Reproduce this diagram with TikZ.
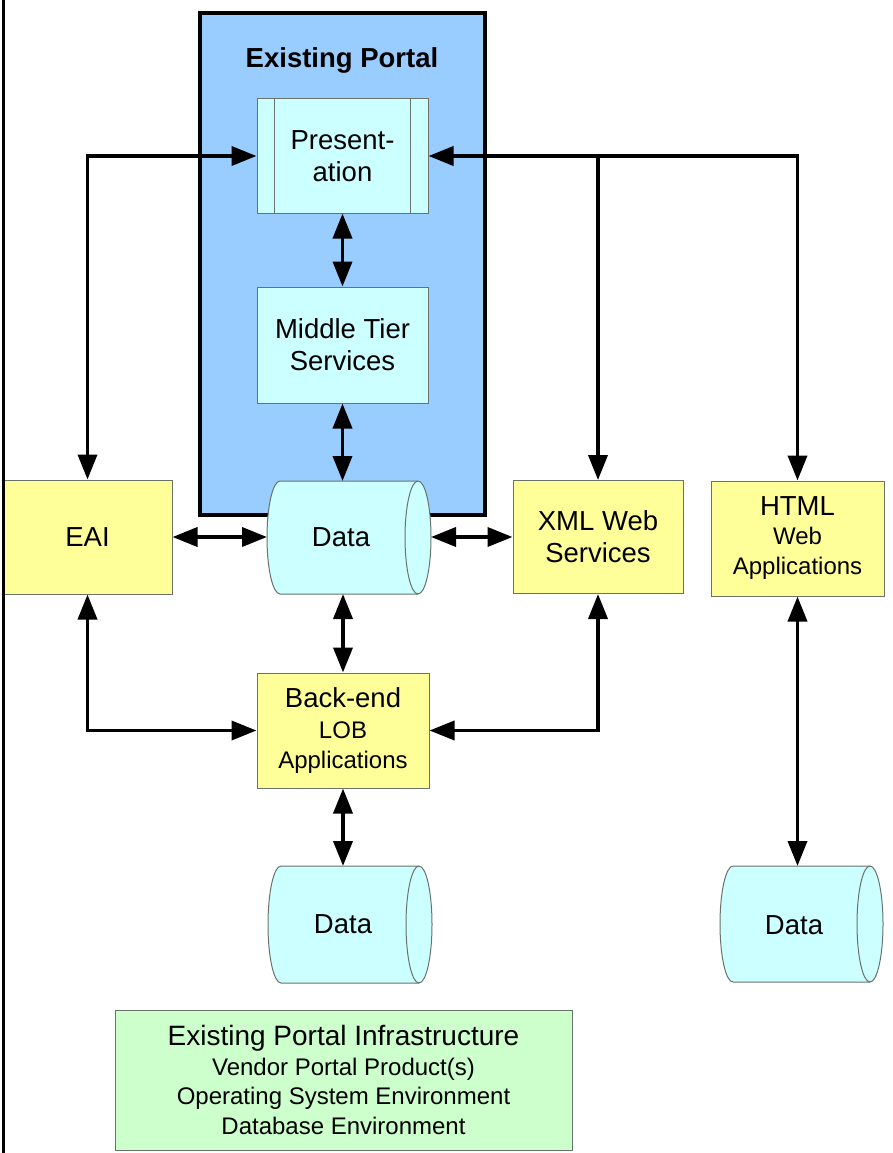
\documentclass[tikz,border=0pt]{standalone}
\usepackage{fontspec}
\setmainfont{Liberation Sans}
\usetikzlibrary{arrows.meta}
\definecolor{portalblue}{RGB}{153,204,255}
\definecolor{cyanfill}{RGB}{204,255,255}
\definecolor{yellowfill}{RGB}{255,255,153}
\definecolor{greenfill}{RGB}{204,255,204}
\definecolor{edgegray}{RGB}{105,115,105}
\newcommand\bigf{\fontsize{27.5}{32}\selectfont}
\newcommand\smf{\fontsize{24}{28}\selectfont}
% cylinder: #1 left corner x, #2 right ellipse centre x, #3 top y, #4 bottom y
\newcommand\cylshape[4]{%
  \pgfmathsetmacro\cyMid{(#3+#4)/2}%
  \pgfmathsetmacro\cyK{(#4-#3)/2*0.5523}%
  \filldraw[fill=cyanfill,draw=edgegray,line width=1pt]
    (#1,#3) -- (#2,#3)
    .. controls (#2+7.2,#3) and (#2+13,\cyMid-\cyK) .. (#2+13,\cyMid)
    .. controls (#2+13,\cyMid+\cyK) and (#2+7.2,#4) .. (#2,#4)
    -- (#1,#4)
    .. controls (#1-7.2,#4) and (#1-13,\cyMid+\cyK) .. (#1-13,\cyMid)
    .. controls (#1-13,\cyMid-\cyK) and (#1-7.2,#3) .. (#1,#3) -- cycle;
  \draw[edgegray,line width=1pt]
    (#2,#3) .. controls (#2-7.2,#3) and (#2-13,\cyMid-\cyK) .. (#2-13,\cyMid)
    .. controls (#2-13,\cyMid+\cyK) and (#2-7.2,#4) .. (#2,#4);
}
\begin{document}
\begin{tikzpicture}[x=1pt,y=-1pt,
  >={Triangle[length=25pt,width=19pt]},
  conn/.style={line width=3.7pt,<->},
  conn1/.style={line width=3.7pt,->},
  box/.style={draw=edgegray,line width=1pt,inner sep=0pt,align=center,font=\bigf},
  cyanbox/.style={box,fill=cyanfill},
  yellowbox/.style={box,fill=yellowfill},
  ghost/.style={draw=none,inner sep=0pt,outer sep=0pt},
  datatext/.style={font=\bigf,inner sep=0pt}]
\useasboundingbox (0,0) rectangle (893,1153);
\fill[white] (0,0) rectangle (893,1153);

% existing portal
\node[draw=black,line width=3.5pt,fill=portalblue,minimum width=285pt,minimum height=502pt,inner sep=0pt] (portal) at (342.5,264) {};
\node[font=\bfseries\fontsize{27.5}{32}\selectfont] (title) at (342,60) {Existing Portal};

\node[cyanbox,minimum width=171pt,minimum height=114pt] (pres) at (342.5,156) {Present-\\ation};
\draw[edgegray,line width=1pt] ([xshift=18pt]pres.north west) -- ([xshift=18pt]pres.south west);
\draw[edgegray,line width=1pt] ([xshift=-18pt]pres.north east) -- ([xshift=-18pt]pres.south east);
\node[cyanbox,minimum width=171pt,minimum height=116pt] (mid) at (342.5,345) {Middle Tier\\Services};

% data stores
\cylshape{280}{418}{481}{594}
\node[ghost,minimum width=164pt,minimum height=113pt] (data1) at (349,537.5) {};
\node[datatext] (data1t) at (341,537) {Data};
\cylshape{281}{419}{866}{983}
\node[ghost,minimum width=164pt,minimum height=117pt] (data2) at (350,924.5) {};
\node[datatext] (data2t) at (343,924) {Data};
\cylshape{733}{870}{866}{982}
\node[ghost,minimum width=163pt,minimum height=116pt] (data3) at (801.5,924) {};
\node[datatext] (data3t) at (794,925) {Data};

% yellow boxes
\node[yellowbox,minimum width=169pt,minimum height=114pt] (eai) at (87.5,537) {EAI};
\node[yellowbox,minimum width=170pt,minimum height=113pt] (xml) at (598,537) {XML Web\\Services};
\node[yellowbox,minimum width=173pt,minimum height=115pt] (html) at (797.5,538.5) {HTML\\[-3pt]{\smf Web}\\[-2pt]{\smf Applications}};
\node[yellowbox,minimum width=172pt,minimum height=115pt] (back) at (343,730.5) {Back-end\\[-1pt]{\smf LOB}\\[-2pt]{\smf Applications}};

% infrastructure
\node[box,fill=greenfill,minimum width=457pt,minimum height=140pt,font=\fontsize{24}{29.5}\selectfont] (infra) at (343.5,1080)
  {{\fontsize{28}{29.5}\selectfont Existing Portal Infrastructure}\\Vendor Portal Product(s)\\Operating System Environment\\Database Environment};

% connectors
\draw[conn] (eai.north) -- (eai.north |- pres.west) -- (pres.west);
\draw[conn] (pres.east) -- (pres.east -| html.north) -- (html.north);
\draw[conn1] (pres.east -| xml.north) -- (xml.north);
\draw[conn] (pres.south) -- (mid.north);
\draw[conn] (mid.south) -- (mid.south |- data1.north);
\draw[conn] (eai.east) -- (eai.east -| data1.west);
\draw[conn] (data1.east |- xml.west) -- (xml.west);
\draw[conn] (back.north |- data1.south) -- (back.north);
\draw[conn] (eai.south) -- (eai.south |- back.west) -- (back.west);
\draw[conn] (xml.south) -- (xml.south |- back.east) -- (back.east);
\draw[conn] (back.south) -- (back.south |- data2.north);
\draw[conn] (html.south) -- (html.south |- data3.north);

% left frame line
\draw[line width=3pt] (3,0) -- (3,1153);
\end{tikzpicture}
\end{document}
